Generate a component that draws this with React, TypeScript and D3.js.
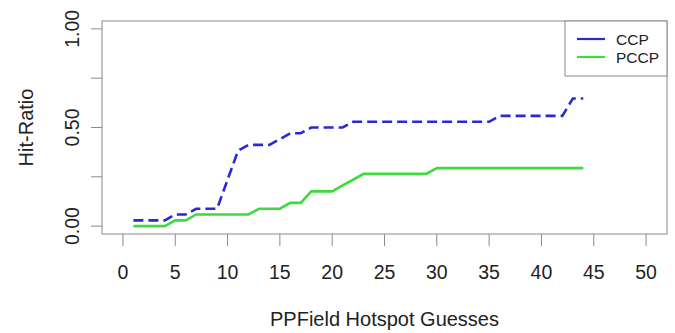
import { useEffect, useRef } from "react";
import * as d3 from "d3";

const guesses = [
  1, 2, 3, 4, 5, 6, 7, 8, 9, 10, 11, 12, 13, 14, 15, 16, 17, 18, 19, 20, 21, 22,
  23, 24, 25, 26, 27, 28, 29, 30, 31, 32, 33, 34, 35, 36, 37, 38, 39, 40, 41, 42,
  43, 44,
];

const ccp = [
  0.029, 0.029, 0.029, 0.029, 0.059, 0.059, 0.088, 0.088, 0.088, 0.235, 0.382,
  0.412, 0.412, 0.412, 0.441, 0.471, 0.471, 0.5, 0.5, 0.5, 0.5, 0.529, 0.529,
  0.529, 0.529, 0.529, 0.529, 0.529, 0.529, 0.529, 0.529, 0.529, 0.529, 0.529,
  0.529, 0.559, 0.559, 0.559, 0.559, 0.559, 0.559, 0.559, 0.647, 0.647,
];

const pccp = [
  0, 0, 0, 0, 0.029, 0.029, 0.059, 0.059, 0.059, 0.059, 0.059, 0.059, 0.088,
  0.088, 0.088, 0.118, 0.118, 0.176, 0.176, 0.176, 0.206, 0.235, 0.265, 0.265,
  0.265, 0.265, 0.265, 0.265, 0.265, 0.294, 0.294, 0.294, 0.294, 0.294, 0.294,
  0.294, 0.294, 0.294, 0.294, 0.294, 0.294, 0.294, 0.294, 0.294,
];

const xTicks = [0, 5, 10, 15, 20, 25, 30, 35, 40, 45, 50];
const yTicks = [0, 0.25, 0.5, 0.75, 1];
const yLabels = ["0.00", "", "0.50", "", "1.00"];

const seriesNames = ["CCP", "PCCP"];
const seriesColors = ["#2a2ad2", "#3cdc3c"];

const W = 675;
const H = 333;
const FONT = "'Liberation Sans', Arial, sans-serif";

export default function App() {
  const svgRef = useRef<SVGSVGElement>(null);

  useEffect(() => {
    if (!svgRef.current) return;
    const svg = d3.select(svgRef.current);
    svg.selectAll("*").remove();

    const left = 102;
    const right = 667;
    const top = 21;
    const bottom = 234;

    const x = d3.scaleLinear().domain([-2, 52]).range([left, right]);
    const y = d3.scaleLinear().domain([-0.04, 1.04]).range([bottom, top]);

    const axisColor = "#8a8a8a";
    const textColor = "#222";

    // x ticks and labels
    const xg = svg.append("g");
    xTicks.forEach((t) => {
      xg.append("line")
        .attr("x1", x(t))
        .attr("x2", x(t))
        .attr("y1", bottom)
        .attr("y2", bottom + 12)
        .attr("stroke", axisColor)
        .attr("stroke-width", 1);
      xg.append("text")
        .attr("x", x(t))
        .attr("y", 279)
        .attr("text-anchor", "middle")
        .attr("font-family", FONT)
        .attr("font-size", 19.5)
        .attr("fill", textColor)
        .text(String(t));
    });

    // y ticks and labels
    const yg = svg.append("g");
    yTicks.forEach((t, i) => {
      yg.append("line")
        .attr("x1", left - 11)
        .attr("x2", left)
        .attr("y1", y(t))
        .attr("y2", y(t))
        .attr("stroke", axisColor)
        .attr("stroke-width", 1);
      if (yLabels[i]) {
        yg.append("text")
          .attr("transform", `translate(79,${y(t)}) rotate(-90)`)
          .attr("text-anchor", "middle")
          .attr("font-family", FONT)
          .attr("font-size", 19.5)
          .attr("fill", textColor)
          .text(yLabels[i]);
      }
    });

    // series lines
    const line = d3
      .line<number>()
      .x((_, i) => x(guesses[i]))
      .y((d) => y(d));

    svg.append("path")
      .datum(pccp)
      .attr("fill", "none")
      .attr("stroke", seriesColors[1])
      .attr("stroke-width", 2.6)
      .attr("d", line);

    svg.append("path")
      .datum(ccp)
      .attr("fill", "none")
      .attr("stroke", seriesColors[0])
      .attr("stroke-width", 2.6)
      .attr("stroke-dasharray", "10 5")
      .attr("d", line);

    // plot box
    svg.append("rect")
      .attr("x", left)
      .attr("y", top)
      .attr("width", right - left)
      .attr("height", bottom - top)
      .attr("fill", "none")
      .attr("stroke", axisColor)
      .attr("stroke-width", 1);

    // legend
    const lg = svg.append("g");
    lg.append("rect")
      .attr("x", 565)
      .attr("y", top)
      .attr("width", right - 565)
      .attr("height", 55)
      .attr("fill", "white")
      .attr("stroke", axisColor)
      .attr("stroke-width", 1);
    seriesNames.forEach((name, i) => {
      const ly = 39 + i * 18;
      lg.append("line")
        .attr("x1", 577)
        .attr("x2", 605)
        .attr("y1", ly)
        .attr("y2", ly)
        .attr("stroke", seriesColors[i])
        .attr("stroke-width", 2.2);
      lg.append("text")
        .attr("x", 616)
        .attr("y", ly + 5.5)
        .attr("font-family", FONT)
        .attr("font-size", 15.5)
        .attr("fill", textColor)
        .text(name);
    });

    // axis titles
    svg.append("text")
      .attr("x", (left + right) / 2)
      .attr("y", 326)
      .attr("text-anchor", "middle")
      .attr("font-family", FONT)
      .attr("font-size", 20)
      .attr("fill", textColor)
      .text("PPField Hotspot Guesses");

    svg.append("text")
      .attr("transform", `translate(33,${(top + bottom) / 2}) rotate(-90)`)
      .attr("text-anchor", "middle")
      .attr("font-family", FONT)
      .attr("font-size", 20)
      .attr("fill", textColor)
      .text("Hit-Ratio");
  }, []);

  return (
    <svg
      ref={svgRef}
      width={W}
      height={H}
      style={{ position: "absolute", left: 0, top: 0, background: "white" }}
    />
  );
}
